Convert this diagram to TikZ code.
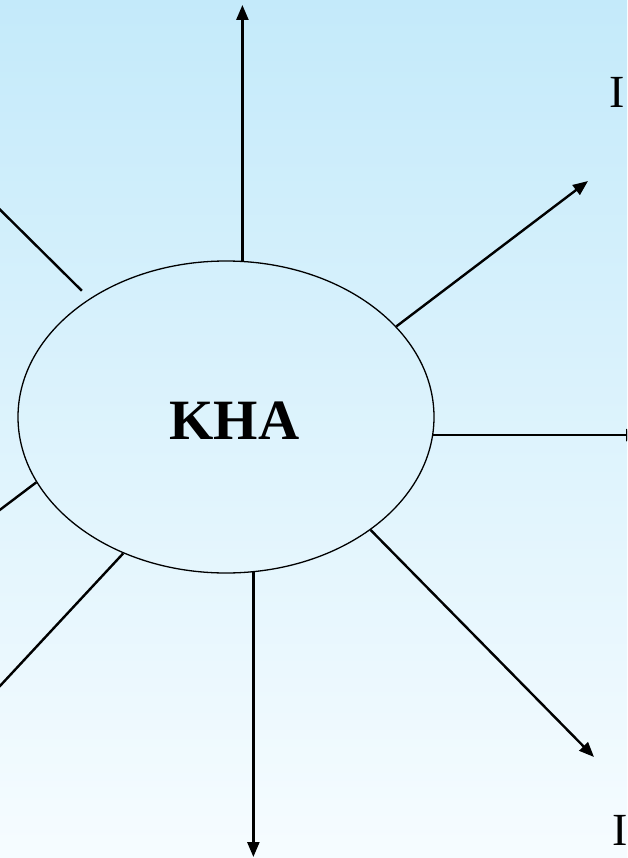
\documentclass[tikz,border=0pt]{standalone}
\usepackage{fontspec}
\setmainfont{Liberation Serif}
\usepackage{xcolor}
\usepackage{tikz}
\usetikzlibrary{arrows.meta, shapes.geometric}

\definecolor{skytop}{RGB}{196,234,250}
\definecolor{skymid}{RGB}{220,243,252}
\definecolor{skybot}{RGB}{246,252,255}

\begin{document}
\begin{tikzpicture}[
		x=1pt, y=-1pt,
		hub/.style={ellipse, draw, line width=1.3pt, minimum width=416pt, minimum height=312pt, inner sep=0pt},
		ray/.style={-{Triangle[length=15pt, width=12pt]}, line width=2.4pt},
		title/.style={font=\fontsize{57}{63}\selectfont\bfseries, inner sep=0pt},
		numeral/.style={font=\fontsize{46}{50}\selectfont, inner sep=0pt, anchor=base west}
		]

		\useasboundingbox (0,0) rectangle (627,858);
		\clip (0,0) rectangle (627,858);
		\shade[top color=skytop, middle color=skymid, bottom color=skybot] (0,0) rectangle (627,858);

		\node[hub] (kha) at (226,417) {};
		\node[title] (khatext) at (234.5,421) {KHA};

		\node[numeral] (numtop) at (609,108) {I};
		\node[numeral] (numbot) at (612,845) {I};

		% free ends of the rays
		\coordinate (up) at (241,5);
		\coordinate (upright) at (588,181);
		\coordinate (right) at (641,437);
		\coordinate (downright) at (594,757);
		\coordinate (down) at (251,857);
		\coordinate (downleft) at (-40,729);
		\coordinate (left) at (-40,540);
		\coordinate (upleft) at (-40,170);

		\draw[ray] (kha.84.5) -- (kha.84.5 |- up);
		\draw[ray] (kha.28.7) -- (upright);
		\draw[ray] (kha.-5.2) -- (kha.-5.2 -| right);
		\draw[ray] (kha.-38.7) -- (downright);
		\draw[ray] (kha.-80.9) -- (kha.-80.9 |- down);
		\draw[ray] (kha.-127.8) -- (downleft);
		\draw[ray] (kha.199.4) -- (left);
		\draw[ray, shorten <=11pt] (kha.139.2) -- (upleft);
	\end{tikzpicture}
\end{document}
